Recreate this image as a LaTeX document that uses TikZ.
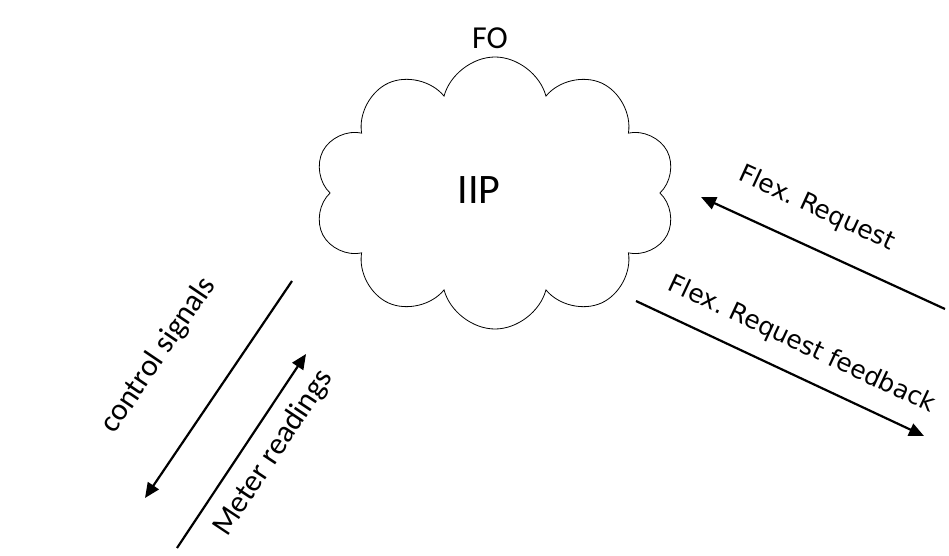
\documentclass[tikz,border=0pt]{standalone}
\usepackage{fontspec}
\setmainfont{Carlito}
\newfontfamily\flexfont{DejaVu Sans}
\usetikzlibrary{shapes.symbols,arrows.meta}
\frenchspacing

\begin{document}
\begin{tikzpicture}[x=1pt,y=-1pt,
    flow/.style={line width=2.2pt,-{Triangle[length=15pt,width=13pt]}},
    sidelbl/.style={font=\fontsize{31}{35}\selectfont,sloped},
    flexlbl/.style={font=\flexfont\fontsize{25}{29}\selectfont,sloped}]
    \useasboundingbox (0,0) rectangle (949,556);
    %% IIP cloud
    \node[draw,cloud,cloud puffs=10,cloud puff arc=150,cloud ignores aspect,minimum width=362pt,minimum height=272pt,line width=0.8pt] (cloud) at (495,193) {};
    \node[font=\fontsize{42}{48}\selectfont] (iip) at (479,190) {IIP};
    \node[font=\fontsize{32}{36}\selectfont] (fo) at (490,38) {FO};
    %% end points
    \coordinate (reqA) at (945,309);
    \coordinate (reqB) at (701,197);
    \coordinate (fbA) at (636,301);
    \coordinate (fbB) at (924,436);
    \coordinate (ctlA) at (292,281);
    \coordinate (ctlB) at (145,498);
    \coordinate (mtrA) at (177,548);
    \coordinate (mtrB) at (306,354);
    %% flows
    \draw[flow] (reqA) -- (reqB) node[flexlbl,pos=0.59,above=21pt] {Flex. Request};
    \draw[flow] (fbA) -- (fbB) node[flexlbl,pos=0.53,above=14pt] {Flex. Request feedback};
    \draw[flow] (ctlA) -- (ctlB) node[sidelbl,pos=0.52,above=51pt] {control signals};
    \draw[flow] (mtrA) -- (mtrB) node[sidelbl,pos=0.57,below=10pt] {Meter readings};
\end{tikzpicture}
\end{document}
